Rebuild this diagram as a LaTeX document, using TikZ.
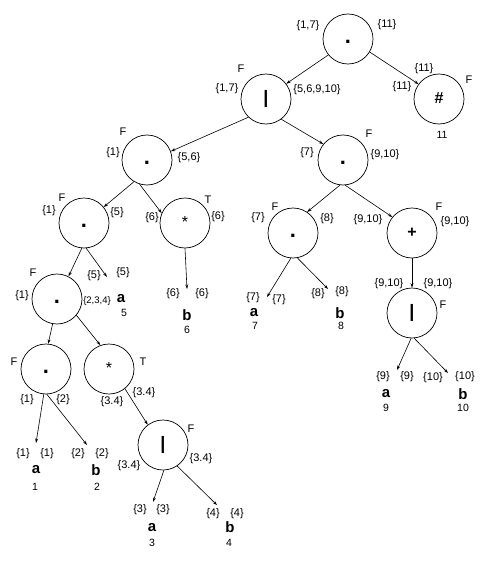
\documentclass[tikz,border=0pt]{standalone}
\usepackage{fontspec}
\setmainfont{Liberation Sans}
\usetikzlibrary{arrows.meta}
\newcommand{\catdot}{{\fontsize{22}{22}\selectfont .}}
\tikzset{op/.style={circle, draw=black, line width=0.7pt, minimum size=50pt, inner sep=0pt,
  text height=9pt, text depth=0pt, font=\fontsize{16}{16}\selectfont\bfseries},
set/.style={inner sep=0pt, font=\fontsize{11}{13}\selectfont},
flag/.style={inner sep=0pt, font=\fontsize{11}{13}\selectfont},
sym/.style={inner sep=0pt, font=\fontsize{15}{15}\selectfont\bfseries},
idx/.style={inner sep=0pt, font=\fontsize{10.5}{12}\selectfont},
link/.style={-{Stealth[length=4.5pt,width=3pt]}, line width=0.6pt}}

\begin{document}
\begin{tikzpicture}[x=1pt, y=-1pt]
    \useasboundingbox (0,0) rectangle (500,567);

    % operators
    \node[op] (n0)  at (348,39)  {\catdot};
    \node[op] (n1)  at (266,99)  {\fontsize{18}{18}\selectfont |};
    \node[op] (n2)  at (439,99)  {\#};
    \node[op] (n3)  at (147,160) {\catdot};
    \node[op] (n4)  at (343,160) {\catdot};
    \node[op] (n5)  at (84,223)  {\catdot};
    \node[op] (n6)  at (185,223) {\mdseries *};
    \node[op] (n7)  at (293,233) {\catdot};
    \node[op] (n8)  at (412,233) {+};
    \node[op] (n9)  at (57,299)  {\catdot};
    \node[op] (n10) at (46,369)  {\catdot};
    \node[op] (n11) at (109,369) {\mdseries *};
    \node[op] (n12) at (163,445) {\fontsize{18}{18}\selectfont |};
    \node[op] (n13) at (412,313) {\fontsize{18}{18}\selectfont |};

    % leaf tips
    \coordinate (p1)  at (36,443);
    \coordinate (p2)  at (87,445);
    \coordinate (p3)  at (153,502);
    \coordinate (p4)  at (217,505);
    \coordinate (p5)  at (107,277);
    \coordinate (p6)  at (187,289);
    \coordinate (p7)  at (267,297);
    \coordinate (p8)  at (328,289);
    \coordinate (p9)  at (397,370);
    \coordinate (p10) at (448,373);

    \draw[link] (n0.219) -- (n1.37);
    \draw[link] (n0.329) -- (n2.144);
    \draw[link] (n1.226) -- (n3.20);
    \draw[link] (n1.307) -- (n4.141);
    \draw[link] (n3.239) -- (n5.39);
    \draw[link] (n3.253) -- (n6.157);
    \draw[link] (n4.263) -- (n7.56);
    \draw[link] (n4.275) -- (n8.141);
    \draw[link] (n5.265) -- (n9.63);
    \draw[link] (n5.275) -- (p5);
    \draw[link] (n6.south) -- (p6);
    \draw[link] (n7.265) -- (p7);
    \draw[link] (n7.280) -- (p8);
    \draw[link] (n8.south) -- (n13.north);
    \draw[link] (n9.260) -- (n10.85);
    \draw[link] (n9.320) -- (n11.110);
    \draw[link] (n10.265) -- (p1);
    \draw[link] (n10.272) -- (p2);
    \draw[link] (n11.309) -- (n12.127);
    \draw[link] (n12.272) -- (p3);
    \draw[link] (n12.304) -- (p4);
    \draw[link] (n13.268) -- (p9);
    \draw[link] (n13.275) -- (p10);

    % sets and flags
    \node[set]  (n0-l)  at (308,26)  {\{1,7\}};
    \node[set]  (n0-r)  at (387,25)  {\{11\}};
    \node[flag] (n1-f)  at (241,69)  {F};
    \node[set]  (n1-l)  at (227,89)  {\{1,7\}};
    \node[set]  (n1-r)  at (317,90)  {\{5,6,9,10\}};
    \node[set]  (n2-t)  at (424,69)  {\{11\}};
    \node[set]  (n2-l)  at (402,87)  {\{11\}};
    \node[flag] (n2-f)  at (469,80)  {F};
    \node[idx]  (n2-i)  at (442,135) {11};
    \node[flag] (n3-f)  at (123,132) {F};
    \node[set]  (n3-l)  at (113,153) {\{1\}};
    \node[set]  (n3-r)  at (189,158) {\{5,6\}};
    \node[flag] (n4-f)  at (369,134) {F};
    \node[set]  (n4-l)  at (307,153) {\{7\}};
    \node[set]  (n4-r)  at (385,155) {\{9,10\}};
    \node[flag] (n5-f)  at (62,198)  {F};
    \node[set]  (n5-l)  at (49,211)  {\{1\}};
    \node[set]  (n5-r)  at (117,213) {\{5\}};
    \node[flag] (n6-f)  at (208,200) {T};
    \node[set]  (n6-l)  at (152,218) {\{6\}};
    \node[set]  (n6-r)  at (218,217) {\{6\}};
    \node[flag] (n7-f)  at (275,207) {F};
    \node[set]  (n7-l)  at (258,218) {\{7\}};
    \node[set]  (n7-r)  at (327,219) {\{8\}};
    \node[flag] (n8-f)  at (439,207) {F};
    \node[set]  (n8-l)  at (368,220) {\{9,10\}};
    \node[set]  (n8-r)  at (455,222) {\{9,10\}};
    \node[flag] (n9-f)  at (33,273)  {F};
    \node[set]  (n9-l)  at (22,296)  {\{1\}};
    \node[set, font=\fontsize{9.5}{11}\selectfont] (n9-r) at (97,301) {\{2,3,4\}};
    \node[flag] (n10-f) at (14,362)  {F};
    \node[set]  (n10-l) at (27,400)  {\{1\}};
    \node[set]  (n10-r) at (63,400)  {\{2\}};
    \node[flag] (n11-f) at (143,362) {T};
    \node[set]  (n11-l) at (112,402) {\{3.4\}};
    \node[set]  (n11-r) at (144,393) {\{3.4\}};
    \node[flag] (n12-f) at (191,429) {F};
    \node[set]  (n12-l) at (129,466) {\{3.4\}};
    \node[set]  (n12-r) at (201,459) {\{3.4\}};
    \node[set]  (n13-l) at (389,284) {\{9,10\}};
    \node[set]  (n13-r) at (438,284) {\{9,10\}};
    \node[flag] (n13-f) at (443,305) {F};

    % leaves
    \node[set] (l1-l)  at (23,454)  {\{1\}};
    \node[set] (l1-r)  at (47,454)  {\{1\}};
    \node[sym] (l1-s)  at (36,470)  {a};
    \node[idx] (l1-i)  at (35,487)  {1};
    \node[set] (l2-l)  at (78,454)  {\{2\}};
    \node[set] (l2-r)  at (102,454) {\{2\}};
    \node[sym] (l2-s)  at (96,470)  {b};
    \node[idx] (l2-i)  at (97,487)  {2};
    \node[set] (l3-l)  at (140,510) {\{3\}};
    \node[set] (l3-r)  at (163,510) {\{3\}};
    \node[sym] (l3-s)  at (152,528) {a};
    \node[idx] (l3-i)  at (152,543) {3};
    \node[set] (l4-l)  at (213,514) {\{4\}};
    \node[set] (l4-r)  at (237,514) {\{4\}};
    \node[sym] (l4-s)  at (230,527) {b};
    \node[idx] (l4-i)  at (229,543) {4};
    \node[set] (l5-l)  at (94,276)  {\{5\}};
    \node[set] (l5-r)  at (123,273) {\{5\}};
    \node[sym] (l5-s)  at (121,299) {a};
    \node[idx] (l5-i)  at (124,313) {5};
    \node[set] (l6-l)  at (173,294) {\{6\}};
    \node[set] (l6-r)  at (202,294) {\{6\}};
    \node[sym] (l6-s)  at (187,315) {b};
    \node[idx] (l6-i)  at (187,330) {6};
    \node[set] (l7-l)  at (253,298) {\{7\}};
    \node[set] (l7-r)  at (279,300) {\{7\}};
    \node[sym] (l7-s)  at (254,313) {a};
    \node[idx] (l7-i)  at (255,326) {7};
    \node[set] (l8-l)  at (318,294) {\{8\}};
    \node[set] (l8-r)  at (342,292) {\{8\}};
    \node[sym] (l8-s)  at (340,313) {b};
    \node[idx] (l8-i)  at (341,326) {8};
    \node[set] (l9-l)  at (383,377) {\{9\}};
    \node[set] (l9-r)  at (407,377) {\{9\}};
    \node[sym] (l9-s)  at (386,394) {a};
    \node[idx] (l9-i)  at (386,408) {9};
    \node[set] (l10-l) at (433,378) {\{10\}};
    \node[set] (l10-r) at (465,377) {\{10\}};
    \node[sym] (l10-s) at (463,394) {b};
    \node[idx] (l10-i) at (463,408) {10};

\end{tikzpicture}
\end{document}
